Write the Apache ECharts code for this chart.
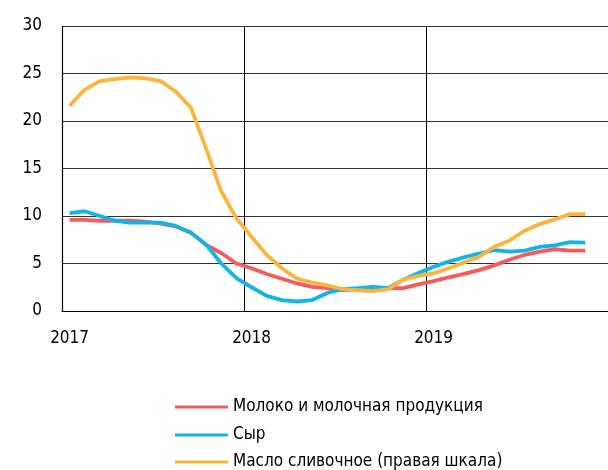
<!DOCTYPE html>
<html>
<head>
<meta charset="utf-8">
<script src="https://cdn.jsdelivr.net/npm/echarts@6/dist/echarts.min.js"></script>
<style>
html,body{margin:0;padding:0;background:#fff;}
#chart{width:608px;height:470px;}
</style>
</head>
<body>
<div id="chart"></div>
<script>
// Months Jan 2017 .. Dec 2019 (last month empty)
const months = [];
for (let y = 2017; y <= 2019; y++) {
  for (let m = 1; m <= 12; m++) months.push(y + '-' + (m < 10 ? '0' + m : m));
}
const yearLabels = {'2017-01': '2017', '2018-01': '2018', '2019-01': '2019'};

const milk = [9.6, 9.6, 9.5, 9.5, 9.5, 9.4, 9.2, 8.9, 8.25, 6.95, 6.1, 5.0,
              4.5, 3.9, 3.4, 2.9, 2.55, 2.4, 2.2, 2.3, 2.4, 2.4, 2.4, 2.8,
              3.15, 3.55, 3.9, 4.3, 4.8, 5.4, 5.9, 6.25, 6.5, 6.35, 6.35, null];
const cheese = [10.3, 10.5, 10.0, 9.5, 9.3, 9.3, 9.3, 8.95, 8.25, 7.0, 5.0, 3.45,
                2.5, 1.6, 1.15, 1.0, 1.15, 1.9, 2.3, 2.4, 2.55, 2.4, 3.3, 4.0,
                4.65, 5.2, 5.65, 6.05, 6.4, 6.25, 6.35, 6.75, 6.9, 7.25, 7.2, null];
const butter = [21.6, 23.3, 24.2, 24.4, 24.6, 24.5, 24.2, 23.1, 21.4, 17.1, 12.6, 9.75,
                7.8, 5.9, 4.5, 3.4, 3.0, 2.7, 2.3, 2.2, 2.1, 2.3, 3.3, 3.7,
                3.95, 4.5, 5.1, 5.7, 6.75, 7.4, 8.45, 9.15, 9.65, 10.2, 10.2, null];
const seriesNames = ['Молоко и молочная продукция', 'Сыр', 'Масло сливочное (правая шкала)'];
const seriesColors = ['#f65a5b', '#12b5e6', '#fbb53c'];

const FONT = "'DejaVu Sans Condensed', 'Noto Sans', sans-serif";
const chart = echarts.init(document.getElementById('chart'));
const yearTick = (i) => i % 12 === 0;

const legendTops = [397, 425, 452];
const legends = seriesNames.map((name, i) => ({
  orient: 'vertical',
  left: 175, top: legendTops[i], padding: 0,
  itemWidth: 53, itemHeight: 3, itemGap: 5,
  icon: 'rect',
  data: [name],
  textStyle: {color: '#000', fontSize: 17, fontFamily: FONT, lineHeight: 20}
}));

chart.setOption({
  animation: false,
  backgroundColor: '#fff',
  grid: {left: 62, top: 26, width: 553.5, bottom: 159, containLabel: false},
  xAxis: {
    type: 'category',
    data: months,
    boundaryGap: true,
    axisLine: {show: true, lineStyle: {color: '#000', width: 1.2}},
    axisTick: {show: false},
    axisLabel: {
      interval: yearTick,
      formatter: (v) => yearLabels[v] || '',
      color: '#000', fontSize: 17, fontFamily: FONT, margin: 19
    },
    splitLine: {show: true, interval: yearTick, lineStyle: {color: '#000', width: 1}}
  },
  yAxis: [{
    type: 'value', min: 0, max: 30, interval: 5,
    axisLine: {show: true, lineStyle: {color: '#000', width: 1.2}},
    axisTick: {show: false},
    axisLabel: {color: '#000', fontSize: 17, fontFamily: FONT, margin: 20},
    splitLine: {show: true, lineStyle: {color: '#333', width: 1}}
  }, {
    type: 'value', min: 0, max: 30, interval: 5, show: false,
    splitLine: {show: false}
  }],
  legend: legends,
  series: [
    {name: seriesNames[0], type: 'line', data: milk, yAxisIndex: 0, showSymbol: false,
     lineStyle: {width: 3.8, color: seriesColors[0]}, itemStyle: {color: seriesColors[0]}, z: 3},
    {name: seriesNames[1], type: 'line', data: cheese, yAxisIndex: 0, showSymbol: false,
     lineStyle: {width: 3.8, color: seriesColors[1]}, itemStyle: {color: seriesColors[1]}, z: 4},
    {name: seriesNames[2], type: 'line', data: butter, yAxisIndex: 1, showSymbol: false,
     lineStyle: {width: 3.8, color: seriesColors[2]}, itemStyle: {color: seriesColors[2]}, z: 5}
  ]
});
</script>
</body>
</html>
